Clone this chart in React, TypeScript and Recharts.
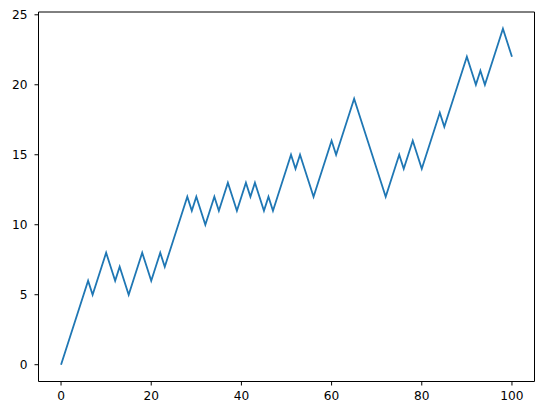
import { LineChart, Line, XAxis, YAxis, ReferenceLine } from "recharts"

const steps = [
  0, 1, 2, 3, 4, 5, 6, 5, 6, 7,
  8, 7, 6, 7, 6, 5, 6, 7, 8, 7,
  6, 7, 8, 7, 8, 9, 10, 11, 12, 11,
  12, 11, 10, 11, 12, 11, 12, 13, 12, 11,
  12, 13, 12, 13, 12, 11, 12, 11, 12, 13,
  14, 15, 14, 15, 14, 13, 12, 13, 14, 15,
  16, 15, 16, 17, 18, 19, 18, 17, 16, 15,
  14, 13, 12, 13, 14, 15, 14, 15, 16, 15,
  14, 15, 16, 17, 18, 17, 18, 19, 20, 21,
  22, 21, 20, 21, 20, 21, 22, 23, 24, 23,
  22,
]
const xTicks = [0, 20, 40, 60, 80, 100]
const yTicks = [0, 5, 10, 15, 20, 25]
const xRange = [-5, 105]
const yRange = [-1.2, 25.2]

const data = steps.map((v, i) => ({ x: i, y: v }))

const tickStyle = { fill: "#000", fontSize: 12.2, fontFamily: "DejaVu Sans" }

export default function App() {
  return (
    <div style={{ position: "absolute", left: 0, top: 0 }}>
      <LineChart width={543} height={415} data={data} margin={{ top: 12, right: 8.5, left: 0, bottom: 0 }}>
        <XAxis
          dataKey="x"
          type="number"
          domain={xRange}
          ticks={xTicks}
          height={33.5}
          tick={tickStyle}
          tickSize={4}
          tickMargin={6}
          axisLine={{ stroke: "#000", strokeWidth: 1 }}
          tickLine={{ stroke: "#000", strokeWidth: 1 }}
        />
        <YAxis
          type="number"
          domain={yRange}
          ticks={yTicks}
          width={38.5}
          tick={tickStyle}
          tickSize={4}
          tickMargin={7}
          axisLine={{ stroke: "#000", strokeWidth: 1 }}
          tickLine={{ stroke: "#000", strokeWidth: 1 }}
        />
        <ReferenceLine y={yRange[1]} stroke="#000" strokeWidth={1} />
        <ReferenceLine x={xRange[1]} stroke="#000" strokeWidth={1} />
        <Line type="linear" dataKey="y" stroke="#1f77b4" strokeWidth={1.8} dot={false} isAnimationActive={false} />
      </LineChart>
    </div>
  )
}
